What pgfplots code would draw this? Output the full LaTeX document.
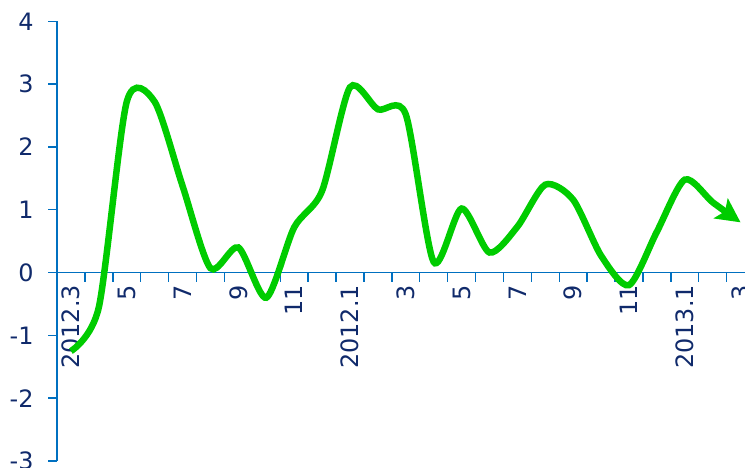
\documentclass[border=0pt]{standalone}
\usepackage{pgfplots}
\pgfplotsset{compat=1.18}
\usepackage{fontspec}
\setmainfont{DejaVu Sans}
\usetikzlibrary{arrows.meta}
\definecolor{axblue}{HTML}{0070C0}
\definecolor{navy}{HTML}{102A6B}
\definecolor{lgreen}{HTML}{00CC00}
\begin{document}
\begin{tikzpicture}[x=1bp,y=1bp]
\useasboundingbox (0,0) rectangle (745,468);
\begin{axis}[
  at={(57bp,7bp)}, anchor=south west,
  scale only axis, width=697.5bp, height=439.6bp,
  xmin=-0.5, xmax=24.5, ymin=-3, ymax=4,
  axis x line*=middle, axis y line*=left,
  axis line style={axblue, line width=1.8bp},
  every tick/.style={axblue, line width=1.4bp},
  tick align=outside,
  xtick={0,2,...,24},
  xticklabels={2012.3,5,7,9,11,2012.1,3,5,7,9,11,2013.1,3},
  major x tick style={draw=none},
  minor xtick={-0.5,0.5,...,24.5},
  minor tick length=9bp,
  major tick length=9bp,
  ytick={-3,-2,...,4},
  /pgf/number format/assume math mode=true,
  tick label style={font=\fontsize{24}{28}\selectfont, text=navy},
  xticklabel style={rotate=90, anchor=east, yshift=0bp},
  yticklabel style={xshift=-11bp},
  clip=false,
]
\addplot[lgreen, line width=6.5bp, smooth, tension=0.45, -{Stealth[length=24bp,width=24bp,inset=5bp]}] coordinates {
(0,-1.25) (1,-0.55) (2,2.72) (3,2.72) (4,1.38) (5,0.07) (6,0.4) (7,-0.4)
(8,0.72) (9,1.3) (10,2.95) (11,2.6) (12,2.52) (13,0.17) (14,1.02) (15,0.32)
(16,0.73) (17,1.4) (18,1.16) (19,0.27) (20,-0.2) (21,0.65) (22,1.48) (23,1.12) (24,0.8)
};
\end{axis}
\end{tikzpicture}
\end{document}
